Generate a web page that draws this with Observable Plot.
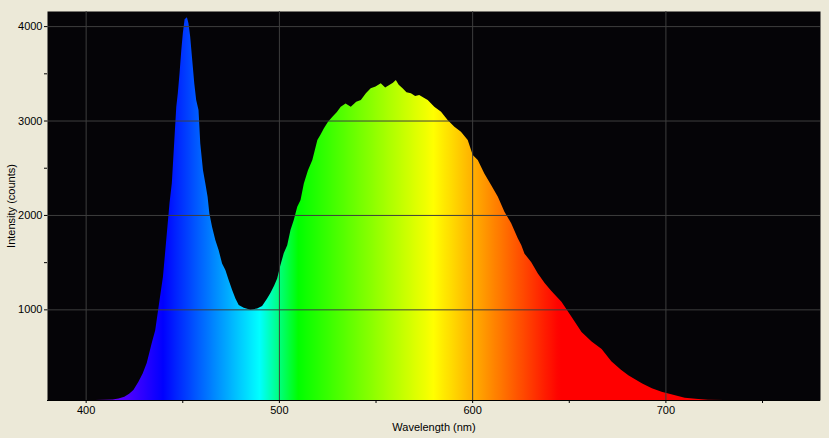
<!DOCTYPE html>
<html>
<head>
<meta charset="utf-8">
<script src="https://cdn.jsdelivr.net/npm/d3@7"></script>
<script src="https://cdn.jsdelivr.net/npm/@observablehq/plot@0.6"></script>
<style>
  html, body { margin: 0; padding: 0; background: #ece9d8; }
  #chart { width: 829px; height: 438px; }
</style>
</head>
<body>
<div id="chart"></div>
<script>
// Wavelength (nm) and intensity (counts)
const wavelengths = [
  380, 405, 410, 414, 417, 420, 422.5, 424.7, 427.3, 429.5, 431.6, 434.2, 436, 438,
  440, 441.7, 443.4, 444.6, 445.5, 446.9, 447.7, 448.6, 449.5, 450.3, 451.2, 452.4,
  453.2, 454.1, 455, 456.2, 457.2, 458.4, 459.3, 460.7, 461.9, 463.1, 464, 465.4,
  467.1, 468.8, 470.6, 472.3, 474, 475.8, 477.5, 479.2, 481.8, 485.3, 488.7, 491.3,
  493.9, 495.6, 497.5, 499.1, 500.8, 502.5, 504.3, 506, 507.7, 509.5, 511.2, 512.9,
  515, 517.3, 519.9, 521.5, 523.3, 525.5, 527.7, 530, 532, 534.5, 537.2, 540, 542.4,
  545, 547.5, 550, 552.7, 555, 557.1, 559, 560.5, 562, 564, 566, 568.3, 570.5, 572.6,
  575, 577, 580.4, 583.9, 587.3, 590.8, 594.2, 597.7, 600.3, 602.9, 606.3, 609.8,
  613.3, 616.7, 620.2, 623.6, 625.4, 627.1, 630.6, 634, 637.5, 641, 646.2, 651.4,
  656.6, 661.8, 667, 672, 677, 681, 688, 693, 698, 703, 710, 717, 722, 730, 780
];
const counts = [
  40, 40, 42, 45, 55, 74, 105, 145, 233, 320, 431, 643, 780, 1066,
  1345, 1734, 2126, 2338, 2656, 3146, 3291, 3503, 3747, 3927, 4072, 4093,
  4030, 3888, 3676, 3394, 3217, 3111, 2758, 2475, 2338, 2193, 2017, 1875,
  1734, 1628, 1487, 1416, 1310, 1204, 1116, 1045, 1017, 995, 1010, 1035,
  1116, 1172, 1250, 1328, 1470, 1593, 1680, 1840, 1946, 2087, 2157, 2334,
  2470, 2581, 2793, 2850, 2917, 2990, 3041, 3090, 3146, 3180, 3146, 3200, 3217,
  3290, 3341, 3360, 3394, 3350, 3376, 3400, 3429, 3380, 3341, 3300, 3288, 3260, 3270,
  3240, 3217, 3146, 3093, 3005, 2935, 2881, 2793, 2634, 2581, 2440, 2317,
  2193, 2034, 1911, 1752, 1681, 1590, 1500, 1380, 1280, 1195, 1080, 921,
  760, 660, 580, 450, 360, 300, 215, 165, 127, 100, 64, 50, 42, 40, 40
];
const xMajorTicks = [400, 500, 600, 700];
const xMinorTicks = [450, 550, 650, 750];
const yMajorTicks = [1000, 2000, 3000, 4000];
const yMinorTicks = [1500, 2500, 3500];

const data = wavelengths.map((wl, i) => ({wl, counts: counts[i]}));

// Wavelength -> RGB (piecewise linear visible spectrum)
function spectrumColor(w) {
  let r = 0, g = 0, b = 0;
  if (w < 440) { r = (440 - w) / 60; b = 1; }
  else if (w < 490) { g = (w - 440) / 50; b = 1; }
  else if (w < 510) { g = 1; b = (510 - w) / 20; }
  else if (w < 580) { r = (w - 510) / 70; g = 1; }
  else if (w < 645) { r = 1; g = (645 - w) / 65; }
  else { r = 1; }
  return d3.rgb(r * 255, g * 255, b * 255).formatHex();
}

const chart = Plot.plot({
  width: 829,
  height: 438,
  marginLeft: 47,
  marginRight: 9,
  marginTop: 11,
  marginBottom: 38,
  style: {background: "#ece9d8", fontFamily: "'Liberation Sans', Arial, sans-serif", fontSize: "11px", color: "#000"},
  x: {domain: [380, 780]},
  y: {domain: [40, 4160]},
  marks: [
    Plot.frame({fill: "#050407", stroke: null}),
    Plot.areaY(data, {x: "wl", y: "counts", fill: "url(#spectrum)", clip: true}),
    Plot.gridX(xMajorTicks, {stroke: "#3e3e3e", strokeOpacity: 1}),
    Plot.gridY(yMajorTicks, {stroke: "#3e3e3e", strokeOpacity: 1}),
    Plot.ruleY([40], {stroke: "#000"}),
    Plot.axisX(xMajorTicks, {tickSize: 3, tickPadding: 3, tickFormat: d3.format("d"), label: "Wavelength (nm)", labelAnchor: "center", labelArrow: "none", labelOffset: 30, fill: "#000", stroke: "#000"}),
    Plot.axisX(xMinorTicks, {tickSize: 3, tickFormat: () => "", label: null, stroke: "#000"}),
    Plot.axisY(yMajorTicks, {tickSize: 3, tickPadding: 2, tickFormat: d3.format("d"), label: "Intensity (counts)", labelAnchor: "center", labelArrow: "none", labelOffset: 40, fill: "#000", stroke: "#000"}),
    Plot.axisY(yMinorTicks, {tickSize: 3, tickFormat: () => "", label: null, stroke: "#000"})
  ]
});

// Spectral gradient positioned through the x scale
const xs = chart.scale("x");
const ns = "http://www.w3.org/2000/svg";
const defs = document.createElementNS(ns, "defs");
const grad = document.createElementNS(ns, "linearGradient");
grad.setAttribute("id", "spectrum");
grad.setAttribute("gradientUnits", "userSpaceOnUse");
const gx1 = xs.apply(380), gx2 = xs.apply(780);
grad.setAttribute("x1", gx1);
grad.setAttribute("x2", gx2);
grad.setAttribute("y1", 0);
grad.setAttribute("y2", 0);
for (let w = 380; w <= 780; w += 2) {
  const stop = document.createElementNS(ns, "stop");
  stop.setAttribute("offset", ((xs.apply(w) - gx1) / (gx2 - gx1)).toFixed(4));
  stop.setAttribute("stop-color", spectrumColor(w));
  grad.appendChild(stop);
}
defs.appendChild(grad);
chart.insertBefore(defs, chart.firstChild);

document.getElementById("chart").appendChild(chart);
</script>
</body>
</html>
